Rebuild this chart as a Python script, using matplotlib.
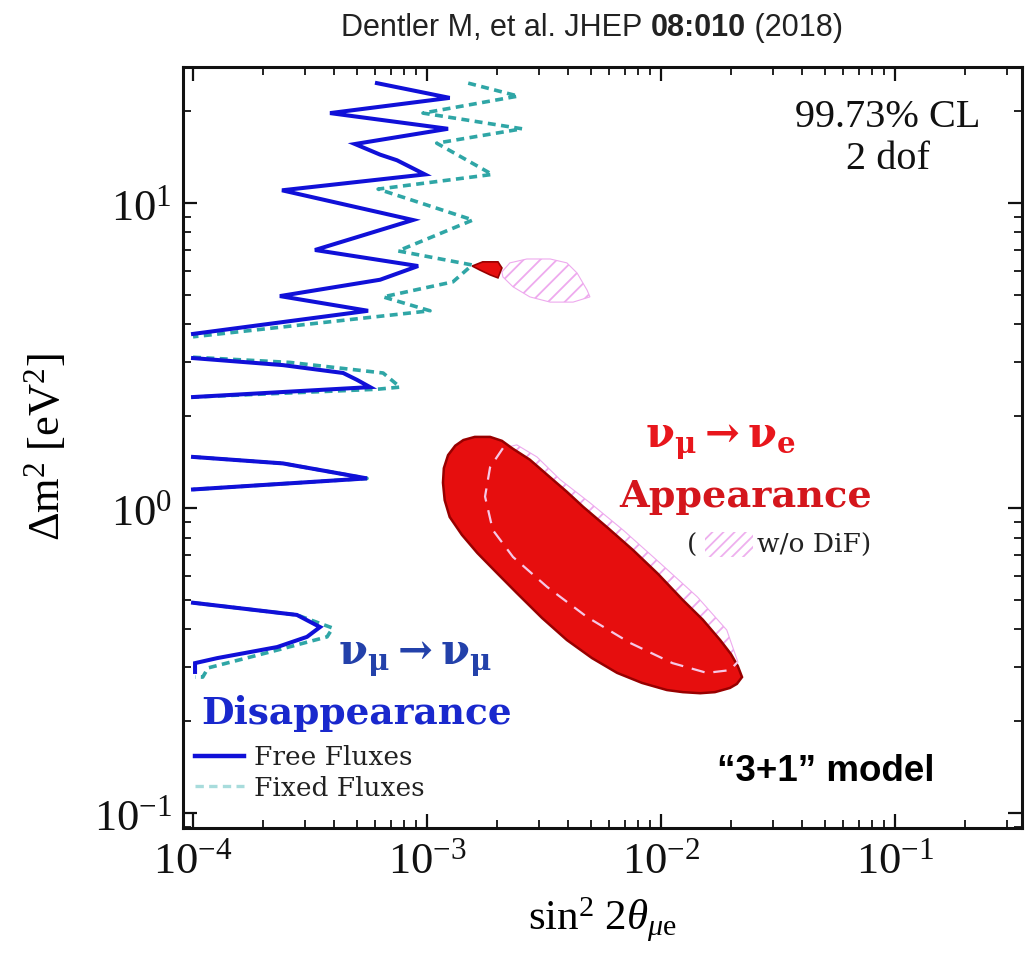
import matplotlib
matplotlib.use('Agg')
import matplotlib.pyplot as plt
from matplotlib.patches import Rectangle
from matplotlib.lines import Line2D
from matplotlib.offsetbox import TextArea, HPacker, AnchoredOffsetbox
from matplotlib.ticker import LogLocator, NullFormatter

plt.rcParams['mathtext.fontset'] = 'custom'
plt.rcParams['mathtext.rm'] = 'Liberation Serif'
plt.rcParams['mathtext.it'] = 'Liberation Serif:italic'
plt.rcParams['mathtext.bf'] = 'Liberation Serif:bold'
plt.rcParams['hatch.linewidth'] = 1.3

# ---------------- data (sin^2 2theta, dm^2 [eV^2]) ----------------
# Disappearance, free fluxes (solid blue) - four branches
free1_x = [6.11e-4, 1.25e-3, 3.85e-4, 1.23e-3, 4.92e-4, 6.30e-4, 7.44e-4, 9.80e-4, 2.40e-4,
           8.71e-4, 3.32e-4, 9.16e-4, 6.30e-4, 2.35e-4, 5.60e-4, 1.00e-4]
free1_y = [24.7, 22.1, 19.7, 17.5, 15.6, 14.4, 13.8, 12.4, 11.0,
           8.79, 7.01, 6.21, 5.60, 4.95, 4.43, 3.72]
free2_x = [1.00e-4, 2.42e-4, 4.38e-4, 5.02e-4, 5.71e-4, 1.00e-4]
free2_y = [3.10, 2.94, 2.77, 2.63, 2.49, 2.31]
free3_x = [1.00e-4, 2.42e-4, 5.54e-4, 1.00e-4]
free3_y = [1.47, 1.40, 1.25, 1.15]
free4_x = [1.00e-4, 2.78e-4, 3.49e-4, 3.07e-4, 2.29e-4, 1.27e-4, 1.02e-4, 1.02e-4]
free4_y = [0.489, 0.446, 0.407, 0.378, 0.350, 0.322, 0.310, 0.290]

# Disappearance, fixed fluxes (dashed teal)
fixed1_x = [1.50e-3, 2.45e-3, 9.61e-4, 2.55e-3, 1.10e-3, 1.90e-3, 6.18e-4, 1.57e-3, 7.52e-4,
            1.56e-3, 1.29e-3, 6.49e-4, 1.03e-3, 1.00e-4]
fixed1_y = [24.7, 22.4, 19.7, 17.5, 15.7, 12.4, 11.1, 8.79, 6.96,
            6.26, 5.51, 4.92, 4.43, 3.64]
fixed2_x = [1.00e-4, 2.60e-4, 6.49e-4, 7.67e-4, 6.11e-4, 1.00e-4]
fixed2_y = [3.12, 3.00, 2.77, 2.49, 2.45, 2.31]
fixed3_x = [1.00e-4, 2.42e-4, 5.54e-4, 1.00e-4]
fixed3_y = [1.47, 1.40, 1.25, 1.15]
fixed4_x = [1.00e-4, 2.78e-4, 3.95e-4, 3.74e-4, 2.29e-4, 1.16e-4, 1.10e-4, 1.02e-4]
fixed4_y = [0.489, 0.446, 0.404, 0.378, 0.342, 0.299, 0.279, 0.279]

# Appearance (red filled) - main island
app_x = [1.17e-3, 1.18e-3, 1.23e-3, 1.32e-3, 1.43e-3, 1.60e-3, 1.86e-3, 2.09e-3, 2.31e-3,
         2.75e-3, 3.36e-3, 3.96e-3, 4.64e-3, 5.94e-3, 7.59e-3, 9.71e-3, 1.24e-2, 1.51e-2,
         1.79e-2, 1.99e-2, 2.13e-2, 2.22e-2, 2.11e-2, 1.97e-2, 1.70e-2, 1.47e-2, 1.24e-2,
         1.06e-2, 8.29e-3, 6.49e-3, 5.07e-3, 3.96e-3, 3.10e-3, 2.42e-3, 1.99e-3, 1.64e-3,
         1.41e-3, 1.25e-3, 1.19e-3]
app_y = [1.21, 1.35, 1.49, 1.60, 1.67, 1.71, 1.71, 1.66, 1.57,
         1.44, 1.26, 1.13, 1.01, 0.859, 0.728, 0.608, 0.499, 0.430,
         0.369, 0.332, 0.303, 0.279, 0.265, 0.257, 0.249, 0.247, 0.249,
         0.253, 0.267, 0.288, 0.322, 0.369, 0.436, 0.526, 0.612, 0.712,
         0.816, 0.934, 1.06]
# Appearance - small island
app2_x = [1.56e-3, 1.73e-3, 2.01e-3, 2.09e-3, 2.01e-3, 1.86e-3, 1.68e-3]
app2_y = [6.21, 6.41, 6.41, 6.12, 5.68, 5.81, 6.03]

# Appearance w/o DiF (pink hatched): inner (dashed) and outer boundary
nodif_in_x = [2.11e-3, 1.86e-3, 1.77e-3, 1.91e-3, 2.33e-3, 3.26e-3, 4.83e-3, 7.38e-3, 1.12e-2,
              1.57e-2, 1.97e-2, 2.13e-2]
nodif_in_y = [1.57, 1.36, 1.09, 0.847, 0.691, 0.551, 0.439, 0.361, 0.310,
              0.288, 0.294, 0.313]
nodif_out_x = [1.91e-2, 1.43e-2, 9.90e-3, 6.88e-3, 4.97e-3, 3.70e-3, 2.95e-3, 2.42e-3]
nodif_out_y = [0.398, 0.511, 0.660, 0.847, 1.04, 1.24, 1.47, 1.61]
nodif2_x = [2.09e-3, 2.26e-3, 2.67e-3, 3.36e-3, 3.96e-3, 4.38e-3, 4.83e-3, 4.97e-3,
            4.21e-3, 3.36e-3, 2.75e-3, 2.33e-3, 2.11e-3]
nodif2_y = [5.94, 6.36, 6.55, 6.55, 6.36, 5.89, 5.18, 4.92,
            4.73, 4.73, 4.92, 5.31, 5.72]

xticks = [1e-4, 1e-3, 1e-2, 1e-1]
xticklabels = [r'$10^{-4}$', r'$10^{-3}$', r'$10^{-2}$', r'$10^{-1}$']
yticks = [1e-1, 1e0, 1e1]
yticklabels = [r'$10^{-1}$', r'$10^{0}$', r'$10^{1}$']

# ---------------- figure ----------------
W, H = 1025, 958
fig = plt.figure(figsize=(W / 100, H / 100), dpi=100)
ax = fig.add_axes([183 / W, 1 - 828 / H, (1022 - 183) / W, (828 - 67) / H])
ax.set_xscale('log')
ax.set_yscale('log')
ax.set_xlim(9.06e-5, 0.349)
ax.set_ylim(0.0893, 27.9)

BLUE = '#1010d8'
TEAL = '#2fa6a6'
RED = '#e60e0e'
DARKRED = '#980000'
PINK = '#eeaaee'

# pink hatched (w/o DiF) below red
ax.fill(nodif_in_x + nodif_out_x, nodif_in_y + nodif_out_y, facecolor='none',
        edgecolor=PINK, hatch='//', lw=0.8, zorder=2)
ax.fill(nodif2_x, nodif2_y, facecolor='none', edgecolor=PINK, hatch='//', lw=0.8, zorder=2)

# red appearance regions
ax.fill(app_x, app_y, facecolor=RED, edgecolor=DARKRED, lw=1.8, zorder=3)
ax.fill(app2_x, app2_y, facecolor=RED, edgecolor=DARKRED, lw=1.2, zorder=3)
# dashed boundary of w/o DiF inside red
ax.plot(nodif_in_x, nodif_in_y, color='#f6c8e6', lw=1.6, ls=(0, (6, 4)), zorder=4)

# disappearance contours
dash = (0, (2.2, 1.5))
for fx, fy in [(fixed1_x, fixed1_y), (fixed2_x, fixed2_y), (fixed3_x, fixed3_y), (fixed4_x, fixed4_y)]:
    ax.plot(fx, fy, color=TEAL, lw=2.6, ls=dash, zorder=4)
for fx, fy in [(free1_x, free1_y), (free2_x, free2_y), (free3_x, free3_y), (free4_x, free4_y)]:
    ax.plot(fx, fy, color=BLUE, lw=2.9, zorder=5, solid_joinstyle='miter')

# ticks
ax.set_xticks(xticks)
ax.set_xticklabels(xticklabels)
ax.set_yticks(yticks)
ax.set_yticklabels(yticklabels)
ax.xaxis.set_minor_locator(LogLocator(base=10, subs=range(2, 10), numticks=20))
ax.yaxis.set_minor_locator(LogLocator(base=10, subs=range(2, 10), numticks=20))
ax.xaxis.set_minor_formatter(NullFormatter())
ax.yaxis.set_minor_formatter(NullFormatter())
ax.tick_params(which='both', direction='in', top=True, right=True, colors='#111111')
ax.tick_params(which='major', length=10, width=1.6, labelsize=32)
ax.tick_params(axis='x', which='major', pad=8)
ax.tick_params(axis='y', which='major', pad=8)
ax.tick_params(which='minor', length=6, width=1.3)
for s in ax.spines.values():
    s.set_linewidth(2.2)
    s.set_color('#111111')

ax.set_xlabel(r'$\mathrm{sin}^2\ 2\theta_{\mu\mathrm{e}}$', fontsize=31, labelpad=10)
ax.set_ylabel(r'$\Delta\mathrm{m}^2\ [\mathrm{eV}^2]$', fontsize=32, labelpad=18)

# texts
ax.text(0.840, 0.906, '99.73% CL\n2 dof', transform=ax.transAxes, ha='center', va='center',
        fontsize=29, family='Liberation Serif', linespacing=1.2, color='#111111')
ax.text(0.640, 0.509, r'$\mathbf{\nu_\mu \rightarrow \nu_e}$', transform=ax.transAxes,
        ha='center', va='center', fontsize=30, color='#e8161c', math_fontfamily='dejavuserif')
ax.text(0.670, 0.435, 'Appearance', transform=ax.transAxes, ha='center', va='center',
        fontsize=27.5, family='DejaVu Serif', weight='bold', color='#d4161c')
ax.text(0.607, 0.372, '(', transform=ax.transAxes, ha='center', va='center',
        fontsize=19, family='DejaVu Serif', color='#222222')
ax.add_patch(Rectangle((0.622, 0.356), 0.057, 0.033, transform=ax.transAxes,
                       facecolor='none', edgecolor='#eeb0ee', hatch='///', lw=0.0))
ax.text(0.684, 0.372, 'w/o DiF)', transform=ax.transAxes, ha='left', va='center',
        fontsize=19, family='DejaVu Serif', color='#222222')
ax.text(0.277, 0.223, r'$\mathbf{\nu_\mu \rightarrow \nu_\mu}$', transform=ax.transAxes,
        ha='center', va='center', fontsize=30, color='#2341aa', math_fontfamily='dejavuserif')
ax.text(0.207, 0.151, 'Disappearance', transform=ax.transAxes, ha='center', va='center',
        fontsize=27, family='DejaVu Serif', weight='bold', color='#1928cd')
ax.text(0.766, 0.0736, '\u201c3+1\u201d model', transform=ax.transAxes, ha='center', va='center',
        fontsize=26.5, family='Liberation Sans', weight='bold', color='black')

handles = [Line2D([], [], color=BLUE, lw=3.2),
           Line2D([], [], color='#a8dcdc', lw=2.4, ls=(0, (2.5, 1.6)))]
leg = ax.legend(handles, ['Free Fluxes', 'Fixed Fluxes'], loc='lower left',
                bbox_to_anchor=(0.014, 0.036), bbox_transform=ax.transAxes,
                frameon=False, prop={'family': 'DejaVu Serif', 'size': 19},
                handlelength=1.85, handletextpad=0.4, labelspacing=0.22,
                borderpad=0, borderaxespad=0)
for t in leg.get_texts():
    t.set_color('#222222')

# title with bold part
parts = [TextArea('Dentler M, et al. JHEP ', textprops=dict(family='Liberation Sans', size=22, color='#222222')),
         TextArea('08:010', textprops=dict(family='Liberation Sans', size=22, weight='bold', color='#222222')),
         TextArea(' (2018)', textprops=dict(family='Liberation Sans', size=22, color='#222222'))]
box = HPacker(children=parts, align='baseline', pad=0, sep=0)
anch = AnchoredOffsetbox(loc='center', child=box, bbox_to_anchor=(592 / W, 1 - 28 / H),
                         bbox_transform=fig.transFigure, frameon=False, pad=0, borderpad=0)
fig.add_artist(anch)

fig.savefig('out.png', dpi=100)
